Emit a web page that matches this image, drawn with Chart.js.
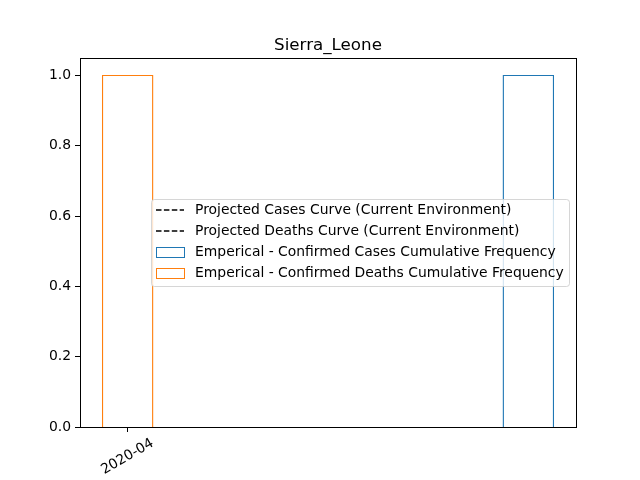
<!DOCTYPE html>
<html>
<head>
<meta charset="utf-8">
<script src="https://cdn.jsdelivr.net/npm/chart.js@4/dist/chart.umd.min.js"></script>
<style>
html,body{margin:0;padding:0;background:#fff;}
#c{display:block;}
</style>
</head>
<body>
<canvas id="c" width="640" height="480"></canvas>
<script>
// ---- data ----
const chartTitle = 'Sierra_Leone';
const caseBinEdges = [8, 9];
const caseFrequency = [1];
const deathBinEdges = [0, 1];
const deathFrequency = [1];
const projectedCases = [];
const projectedDeaths = [];
const xTickValues = [0.5];
const xTickLabels = ['2020-04'];
const yTickValues = [0, 0.2, 0.4, 0.6, 0.8, 1.0];
const seriesNames = [
  'Projected Cases Curve (Current Environment)',
  'Projected Deaths Curve (Current Environment)',
  'Emperical - Confirmed Cases Cumulative Frequency',
  'Emperical - Confirmed Deaths Cumulative Frequency'
];

function stepOutline(edges, freq) {
  const pts = [];
  for (let i = 0; i < freq.length; i++) {
    pts.push({x: edges[i], y: 0});
    pts.push({x: edges[i], y: freq[i]});
    pts.push({x: edges[i + 1], y: freq[i]});
    pts.push({x: edges[i + 1], y: 0});
  }
  return pts;
}

const FONT = "'DejaVu Sans', sans-serif";
const blue = '#1f77b4', orange = '#ff7f0e';

const frame = {
  id: 'frame',
  afterDatasetsDraw(chart) {
    const {ctx, chartArea: a} = chart;
    ctx.save();
    ctx.strokeStyle = '#000';
    ctx.lineWidth = 1;
    ctx.strokeRect(Math.round(a.left) + 0.5, Math.round(a.top) + 0.5,
                   Math.round(a.right - a.left), Math.round(a.bottom - a.top));
    ctx.restore();
  }
};

const titleAndLegend = {
  id: 'titleAndLegend',
  afterDraw(chart) {
    const ctx = chart.ctx;
    const a = chart.chartArea;
    ctx.save();
    // title, centred over the axes
    ctx.font = '16.7px ' + FONT;
    ctx.fillStyle = '#000';
    ctx.textAlign = 'center';
    ctx.textBaseline = 'alphabetic';
    ctx.fillText(chartTitle, (a.left + a.right) / 2, a.top - 8.3);

    // legend
    const x0 = 151, y0 = 199, w = 418, h = 87, r = 3;
    ctx.globalAlpha = 0.8;
    ctx.fillStyle = '#fff';
    ctx.beginPath();
    ctx.roundRect(x0 + 0.5, y0 + 0.5, w, h, r);
    ctx.fill();
    ctx.globalAlpha = 1;
    ctx.strokeStyle = 'rgba(204,204,204,0.8)';
    ctx.lineWidth = 1;
    ctx.stroke();
    ctx.font = '13.9px ' + FONT;
    ctx.textAlign = 'left';
    ctx.textBaseline = 'middle';
    const rows = [210, 231, 252, 273];
    chart.data.datasets.forEach((ds, i) => {
      const y = rows[i];
      if (ds.legendKind === 'line') {
        ctx.strokeStyle = ds.borderColor;
        ctx.lineWidth = 1.5;
        ctx.setLineDash(ds.borderDash);
        ctx.beginPath();
        ctx.moveTo(156, y);
        ctx.lineTo(184, y);
        ctx.stroke();
        ctx.setLineDash([]);
      } else {
        ctx.strokeStyle = ds.borderColor;
        ctx.lineWidth = 1;
        ctx.strokeRect(156.5, y - 4.5, 28, 10);
      }
      ctx.fillStyle = '#000';
      ctx.fillText(ds.label, 195, y);
    });
    ctx.restore();
  }
};

new Chart(document.getElementById('c'), {
  type: 'scatter',
  data: {
    datasets: [
      {label: seriesNames[0], data: projectedCases, borderColor: '#000', borderDash: [5.5, 2.4], showLine: true, pointRadius: 0, legendKind: 'line'},
      {label: seriesNames[1], data: projectedDeaths, borderColor: '#000', borderDash: [5.5, 2.4], showLine: true, pointRadius: 0, legendKind: 'line'},
      {label: seriesNames[2], data: stepOutline(caseBinEdges, caseFrequency), borderColor: blue, borderWidth: 1.1, showLine: true, pointRadius: 0, fill: false, legendKind: 'patch'},
      {label: seriesNames[3], data: stepOutline(deathBinEdges, deathFrequency), borderColor: orange, borderWidth: 1.1, showLine: true, pointRadius: 0, fill: false, legendKind: 'patch'}
    ]
  },
  options: {
    responsive: false,
    animation: false,
    layout: {padding: {left: 0, right: 64, top: 58, bottom: 0}},
    plugins: {
      legend: {display: false},
      tooltip: {enabled: false},
      title: {display: false}
    },
    scales: {
      x: {
        type: 'linear',
        min: -0.45,
        max: 9.45,
        afterBuildTicks(scale) { scale.ticks = xTickValues.map(v => ({value: v})); },
        afterFit(scale) { scale.height = 53; },
        ticks: {
          color: '#000',
          font: {family: FONT, size: 13.9},
          minRotation: 30,
          maxRotation: 30,
          labelOffset: 25,
          padding: 3,
          callback: (v, i) => xTickLabels[i]
        },
        grid: {display: true, drawOnChartArea: false, drawTicks: true, tickLength: 5, color: '#000', tickColor: '#000'},
        border: {display: false}
      },
      y: {
        min: 0,
        max: 1.05,
        afterBuildTicks(scale) { scale.ticks = yTickValues.map(v => ({value: v})); },
        afterFit(scale) { scale.width = 80; },
        ticks: {
          color: '#000',
          font: {family: FONT, size: 13.9},
          padding: 4,
          callback: v => v.toFixed(1)
        },
        grid: {display: true, drawOnChartArea: false, drawTicks: true, tickLength: 5, color: '#000', tickColor: '#000'},
        border: {display: false}
      }
    }
  },
  plugins: [frame, titleAndLegend]
});
</script>
</body>
</html>
